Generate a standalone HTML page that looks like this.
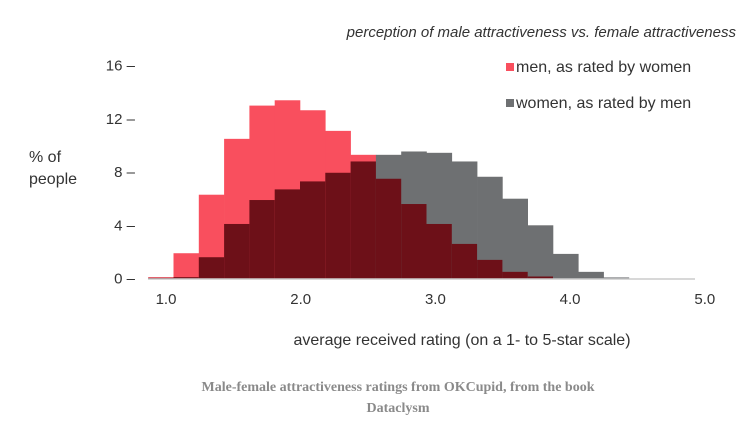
<!DOCTYPE html>
<html><head><meta charset="utf-8"><style>
html,body{margin:0;padding:0;background:#fff;}
body{width:746px;height:430px;overflow:hidden;position:relative;font-family:"Liberation Sans",sans-serif;}
</style></head><body>
<svg id="chart" width="746" height="430" xmlns="http://www.w3.org/2000/svg" style="position:absolute;left:0;top:0">
<text x="736" y="37" text-anchor="end" font-style="italic" font-size="15" fill="#333">perception of male attractiveness vs. female attractiveness</text>
<rect x="506" y="63" width="8" height="8" fill="#f94f5e"/>
<text x="516" y="72" font-size="16" fill="#333">men, as rated by women</text>
<rect x="506" y="99" width="8" height="8" fill="#6e7072"/>
<text x="516" y="108" font-size="16" fill="#333">women, as rated by men</text>
<text font-size="16" fill="#333"><tspan x="29" y="162">% of</tspan><tspan x="29" y="184">people</tspan></text>
<g id="bars"></g>
<g id="axes"></g>
<text x="462" y="345" text-anchor="middle" font-size="16" fill="#333">average received rating (on a 1- to 5-star scale)</text>
<text font-family="Liberation Serif, serif" font-weight="bold" font-size="14" fill="#8a8a8a" text-anchor="middle"><tspan x="398" y="391">Male-female attractiveness ratings from OKCupid, from the book</tspan><tspan x="398" y="412">Dataclysm</tspan></text>
</svg>
<script>
const binStarts = [0.8,1.0,1.2,1.4,1.6,1.8,2.0,2.2,2.4,2.6,2.8,3.0,3.2,3.4,3.6,3.8,4.0,4.2,4.4];
const menValues = [0.1,1.9,6.3,10.5,13.0,13.4,12.65,11.1,9.3,7.5,5.6,4.1,2.6,1.4,0.5,0.15,0,0,0];
const womenValues = [0.05,0.1,1.6,4.1,5.9,6.7,7.3,7.95,8.8,9.3,9.55,9.45,8.8,7.65,6.0,4.0,1.85,0.5,0.08];
const yTicks = [0,4,8,12,16];
const xTicks = [1.0,2.0,3.0,4.0,5.0];
const xTickLabels = ["1.0","2.0","3.0","4.0","5.0"];
const binWidth = 0.2;
const NS="http://www.w3.org/2000/svg";
const xBin = v => 173.5 + (v-1.0)*126.5;
const xLab = v => 166 + (v-1.0)*134.7;
const y = v => 278.5 - v*13.3;
const bars=document.getElementById('bars'), axes=document.getElementById('axes');
function rect(x0,x1,v,fill){const r=document.createElementNS(NS,'rect');r.setAttribute('x',x0);r.setAttribute('width',x1-x0+0.3);r.setAttribute('y',y(v));r.setAttribute('height',y(0)-y(v));r.setAttribute('fill',fill);bars.appendChild(r);return r;}
binStarts.forEach((b,i)=>{
  const x0=xBin(b), x1=xBin(b+binWidth);
  const m=menValues[i], w=womenValues[i], lo=Math.min(m,w);
  if(w>m){const r=rect(x0,x1,w,'#6e7072');
    
    }
  if(m>w){const r=rect(x0,x1,m,'#f94f5e');
    
    }
  if(lo>0){const r=rect(x0,x1,lo,'#6d1018');
    
    }
});
const ax=document.createElementNS(NS,'line');
ax.setAttribute('x1',148);ax.setAttribute('x2',695);ax.setAttribute('y1',y(0)+0.5);ax.setAttribute('y2',y(0)+0.5);
ax.setAttribute('stroke','#ccc');ax.setAttribute('stroke-width','1.5');


axes.appendChild(ax);
yTicks.forEach(t=>{const e=document.createElementNS(NS,'text');
  e.setAttribute('x',135);e.setAttribute('y',y(t)+5);e.setAttribute('text-anchor','end');e.setAttribute('font-size','15');e.setAttribute('fill','#333');
  e.textContent=t+' \u2013';
  
  
  axes.appendChild(e);});
xTicks.forEach((t,i)=>{const e=document.createElementNS(NS,'text');
  e.setAttribute('x',xLab(t));e.setAttribute('y',304);e.setAttribute('text-anchor','middle');e.setAttribute('font-size','15');e.setAttribute('fill','#333');
  e.textContent=xTickLabels[i];
  
  
  axes.appendChild(e);});
</script>
</body></html>
